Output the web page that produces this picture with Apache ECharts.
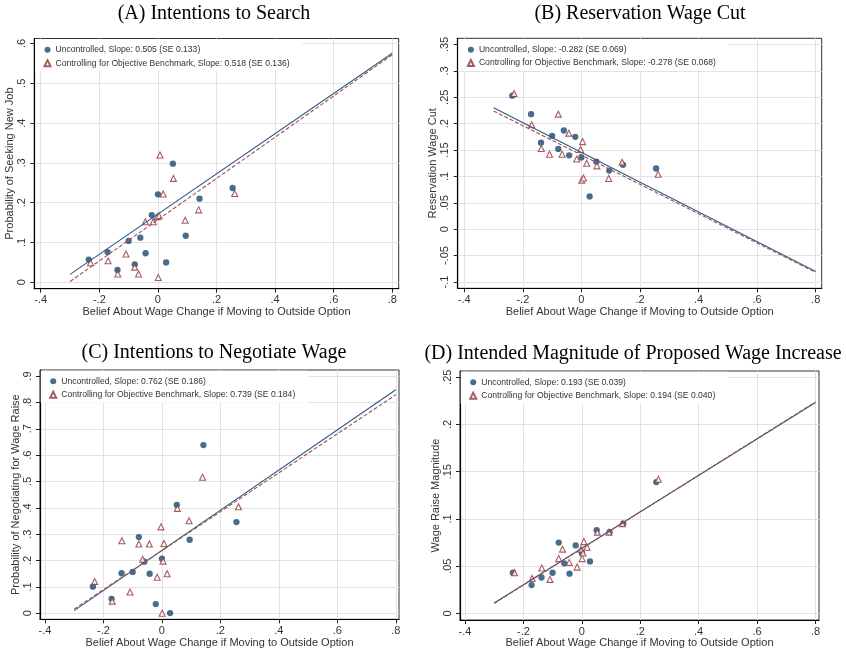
<!DOCTYPE html>
<html>
<head>
<meta charset="utf-8">
<script src="https://cdn.jsdelivr.net/npm/echarts@6/dist/echarts.min.js"></script>
<style>
  html, body { margin: 0; padding: 0; background: #fff; }
  #chart { width: 846px; height: 651px; }
</style>
</head>
<body>
<div id="chart"></div>
<script>
// Binned beliefs about the wage change from moving to the outside option (x values)
const beliefUncontrolled = [-0.236, -0.172, -0.138, -0.100, -0.079, -0.060, -0.042, -0.021, 0.000, 0.028, 0.051, 0.095, 0.142, 0.255];
const beliefControlled = [-0.230, -0.170, -0.137, -0.109, -0.079, -0.066, -0.043, -0.016, -0.003, 0.001, 0.004, 0.007, 0.018, 0.053, 0.093, 0.139, 0.262];

// (A) Probability of seeking a new job
const searchUnc = [0.057, 0.076, 0.031, 0.104, 0.045, 0.112, 0.073, 0.169, 0.221, 0.050, 0.298, 0.117, 0.210, 0.237];
const searchCtrl = [0.049, 0.054, 0.021, 0.071, 0.038, 0.021, 0.152, 0.152, 0.165, 0.012, 0.167, 0.320, 0.222, 0.261, 0.156, 0.182, 0.223];
// (B) Reservation wage cut
const resWageUnc = [0.253, 0.218, 0.164, 0.177, 0.152, 0.187, 0.140, 0.175, 0.136, 0.062, 0.128, 0.111, 0.122, 0.115];
const resWageCtrl = [0.257, 0.198, 0.153, 0.142, 0.218, 0.142, 0.182, 0.133, 0.151, 0.093, 0.166, 0.097, 0.125, 0.120, 0.096, 0.127, 0.104];
// (C) Probability of negotiating for a wage raise
const negotiateUnc = [0.101, 0.055, 0.152, 0.157, 0.289, 0.196, 0.150, 0.035, 0.207, 0.001, 0.411, 0.279, 0.638, 0.346];
const negotiateCtrl = [0.121, 0.046, 0.275, 0.081, 0.263, 0.205, 0.263, 0.137, 0.328, 0.000, 0.198, 0.265, 0.150, 0.398, 0.351, 0.516, 0.404];
// (D) Wage raise magnitude
const raiseUnc = [0.043, 0.030, 0.038, 0.043, 0.075, 0.053, 0.042, 0.072, 0.064, 0.055, 0.088, 0.086, 0.095, 0.139];
const raiseCtrl = [0.043, 0.037, 0.048, 0.036, 0.058, 0.068, 0.054, 0.049, 0.068, 0.058, 0.064, 0.076, 0.070, 0.086, 0.086, 0.095, 0.142];

// Linear fits: [uncontrolled, controlling for objective benchmark]
const slopesA = [0.505, 0.518], seA = [0.133, 0.136], interceptsA = [0.1715, 0.1574];
const slopesB = [-0.282, -0.278], seB = [0.069, 0.068], interceptsB = [0.1454, 0.1406];
const slopesC = [0.762, 0.739], seC = [0.186, 0.184], interceptsC = [0.2386, 0.2377];
const slopesD = [0.193, 0.194], seD = [0.039, 0.040], interceptsD = [0.0689, 0.0687];
const fitRange = [-0.3, 0.8];

// Tick values
const xTicks = [-0.4, -0.2, 0, 0.2, 0.4, 0.6, 0.8];
const yTicksA = [0, 0.1, 0.2, 0.3, 0.4, 0.5, 0.6];
const yTicksB = [-0.1, -0.05, 0, 0.05, 0.1, 0.15, 0.2, 0.25, 0.3, 0.35];
const yTicksC = [0, 0.1, 0.2, 0.3, 0.4, 0.5, 0.6, 0.7, 0.8, 0.9];
const yTicksD = [0, 0.05, 0.1, 0.15, 0.2, 0.25];

const xTitle = 'Belief About Wage Change if Moving to Outside Option';

const NAVY = '#1a476f';
const MAROON = '#90353b';
const SANS = 'Liberation Sans, Arial, sans-serif';
const SERIF = 'Liberation Serif, Times New Roman, serif';

const panels = [
  { title: '(A) Intentions to Search', titleX: 214, titleY: 4, yName: 'Probability of Seeking New Job',
    grid: { left: 34.3, top: 38.5, width: 364.4, height: 250.2 }, xRange: [-0.422, 0.822], yRange: [-0.0161, 0.6126],
    yTicks: yTicksA, unc: searchUnc, ctrl: searchCtrl, slopes: slopesA, se: seA, icpt: interceptsA },
  { title: '(B) Reservation Wage Cut', titleX: 640, titleY: 4, yName: 'Reservation Wage Cut',
    grid: { left: 457.7, top: 38.3, width: 364, height: 250 }, xRange: [-0.4225, 0.8205], yRange: [-0.112, 0.3617],
    yTicks: yTicksB, unc: resWageUnc, ctrl: resWageCtrl, slopes: slopesB, se: seB, icpt: interceptsB },
  { title: '(C) Intentions to Negotiate Wage', titleX: 214, titleY: 343, yName: 'Probability of Negotiating for Wage Raise',
    grid: { left: 40, top: 370, width: 359, height: 249.3 }, xRange: [-0.417, 0.811], yRange: [-0.0228, 0.923],
    yTicks: yTicksC, unc: negotiateUnc, ctrl: negotiateCtrl, slopes: slopesC, se: seC, icpt: interceptsC },
  { title: '(D) Intended Magnitude of Proposed Wage Increase', titleX: 633, titleY: 344, yName: 'Wage Raise Magnitude',
    grid: { left: 460, top: 371, width: 359, height: 249 }, xRange: [-0.417, 0.812], yRange: [-0.007, 0.2566],
    yTicks: yTicksD, unc: raiseUnc, ctrl: raiseCtrl, slopes: slopesD, se: seD, icpt: interceptsD }
];

// Stata-style number labels: 0.2 -> ".2", -0.05 -> "-.05"
function stataNum(v) {
  if (Math.abs(v) < 1e-9) return '0';
  return String(+v.toFixed(3)).replace(/^(-?)0\./, '$1.');
}

const fmt = (v) => v.toFixed(3);
const option = {
  backgroundColor: '#fff',
  animation: false,
  title: [], grid: [], xAxis: [], yAxis: [], legend: [], series: []
};

panels.forEach((p, i) => {
  const nameUnc = 'Uncontrolled, Slope: ' + fmt(p.slopes[0]) + ' (SE ' + fmt(p.se[0]) + ')';
  const nameCtrl = 'Controlling for Objective Benchmark, Slope: ' + fmt(p.slopes[1]) + ' (SE ' + fmt(p.se[1]) + ')';

  option.title.push({
    text: p.title, left: p.titleX, top: p.titleY, textAlign: 'center', padding: 0,
    textStyle: { fontFamily: SERIF, fontSize: 20, fontWeight: 'normal', color: '#000' }
  });
  option.grid.push(Object.assign({ show: true, borderColor: '#333', borderWidth: 1, backgroundColor: '#fff' }, p.grid));

  option.xAxis.push({
    gridIndex: i, type: 'value', min: p.xRange[0], max: p.xRange[1],
    name: xTitle, nameLocation: 'middle', nameGap: 16,
    nameTextStyle: { fontFamily: SANS, fontSize: 11, color: '#333' },
    axisLine: { show: true, onZero: false, lineStyle: { color: '#000', width: 1.2 } },
    axisTick: { show: true, length: 4, customValues: xTicks, lineStyle: { color: '#222' } },
    axisLabel: { customValues: xTicks, formatter: stataNum, margin: 6, fontFamily: SANS, fontSize: 11, color: '#333' },
    splitLine: { show: true, lineStyle: { color: '#e2e2e2', width: 1 } }
  });
  option.yAxis.push({
    gridIndex: i, type: 'value', min: p.yRange[0], max: p.yRange[1],
    name: p.yName, nameLocation: 'middle', nameGap: 18,
    nameTextStyle: { fontFamily: SANS, fontSize: 11, color: '#333' },
    axisLine: { show: true, onZero: false, lineStyle: { color: '#000', width: 1.2 } },
    axisTick: { show: true, length: 4, customValues: p.yTicks, lineStyle: { color: '#222' } },
    axisLabel: { customValues: p.yTicks, formatter: stataNum, rotate: 90, margin: 7, fontFamily: SANS, fontSize: 11, color: '#333' },
    splitLine: { show: true, lineStyle: { color: '#e2e2e2', width: 1.2 } }
  });

  option.legend.push({
    left: p.grid.left + 0.7, top: p.grid.top + 0.7, orient: 'vertical',
    data: [nameUnc, nameCtrl],
    itemWidth: 6, itemHeight: 6, itemGap: 3,
    padding: [5.5, 13, 3, 8.5],
    backgroundColor: '#fff', selectedMode: false,
    textStyle: { fontFamily: SANS, fontSize: 8.6, color: '#333', lineHeight: 10.3 }
  });

  const ptsUnc = beliefUncontrolled.map((x, k) => [x, p.unc[k]]);
  const ptsCtrl = beliefControlled.map((x, k) => [x, p.ctrl[k]]);
  const fitLine = (j) => fitRange.map(x => [x, p.icpt[j] + p.slopes[j] * x]);

  option.series.push(
    { name: nameUnc, type: 'scatter', xAxisIndex: i, yAxisIndex: i, data: ptsUnc,
      symbol: 'circle', symbolSize: 6.3, itemStyle: { color: NAVY }, z: 3 },
    { name: nameCtrl, type: 'scatter', xAxisIndex: i, yAxisIndex: i, data: ptsCtrl,
      symbol: 'triangle', symbolSize: 6, itemStyle: { color: '#fff', borderColor: MAROON, borderWidth: 1.1 }, z: 4 },
    { name: 'fit-unc-' + i, type: 'line', xAxisIndex: i, yAxisIndex: i, data: fitLine(0),
      symbol: 'none', lineStyle: { color: '#2c5a88', width: 1.1 }, z: 5, silent: true },
    { name: 'fit-ctrl-' + i, type: 'line', xAxisIndex: i, yAxisIndex: i, data: fitLine(1),
      symbol: 'none', lineStyle: { color: '#a94a50', width: 1.1, type: [4, 2] }, z: 5, silent: true }
  );
});

const chart = echarts.init(document.getElementById('chart'), null, { renderer: 'canvas' });
chart.setOption(option);
</script>
</body>
</html>
